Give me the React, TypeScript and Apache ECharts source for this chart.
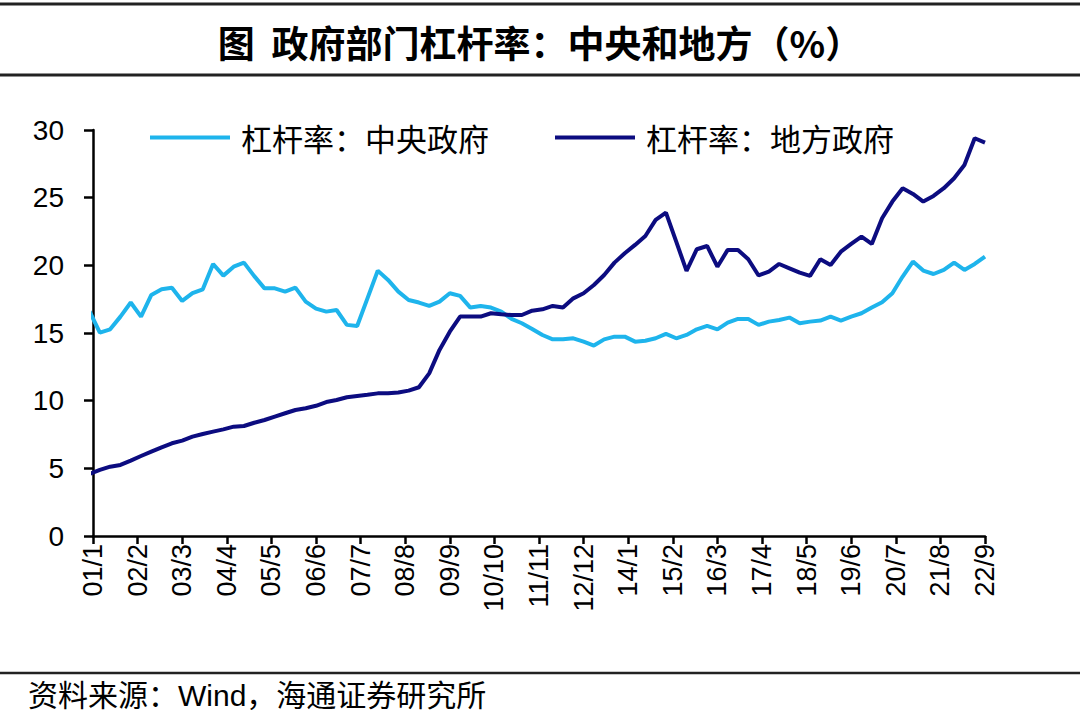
import React, { useEffect, useRef } from "react";
import * as echarts from "echarts";

// Quarterly data, 2000Q4 .. 2022Q3 (88 quarters)
const centralGov: number[] = [
  16.6, 15.03, 15.27, 16.21, 17.25, 16.21, 17.81, 18.23, 18.35, 17.37,
  17.94, 18.23, 20.1, 19.24, 19.9, 20.2, 19.2, 18.3, 18.3, 18.06,
  18.35, 17.32, 16.8, 16.58, 16.7, 15.6, 15.52, 17.56, 19.61, 18.92,
  18.06, 17.44, 17.25, 17.0, 17.32, 17.94, 17.74, 16.88, 17.0, 16.88,
  16.58, 16.04, 15.72, 15.3, 14.85, 14.53, 14.53, 14.61, 14.36, 14.07,
  14.53, 14.73, 14.73, 14.36, 14.43, 14.61, 14.93, 14.61, 14.86, 15.27,
  15.52, 15.27, 15.77, 16.04, 16.04, 15.6, 15.84, 15.96, 16.14, 15.72,
  15.84, 15.92, 16.21, 15.92, 16.21, 16.46, 16.88, 17.27, 17.94, 19.17,
  20.28, 19.61, 19.36, 19.66, 20.2, 19.66, 20.1, 20.65,
];

const localGov: number[] = [
  4.58, 4.88, 5.12, 5.25, 5.57, 5.91, 6.23, 6.55, 6.85, 7.05,
  7.34, 7.54, 7.71, 7.88, 8.08, 8.13, 8.37, 8.57, 8.82, 9.07,
  9.31, 9.44, 9.62, 9.9, 10.05, 10.25, 10.35, 10.44, 10.54, 10.54,
  10.6, 10.74, 10.99, 12.02, 13.75, 15.1, 16.21, 16.21, 16.21, 16.46,
  16.38, 16.33, 16.33, 16.65, 16.75, 17.0, 16.88, 17.56, 17.94, 18.55,
  19.29, 20.2, 20.89, 21.51, 22.17, 23.36, 23.9, 21.75, 19.59, 21.19,
  21.43, 19.9, 21.14, 21.14, 20.45, 19.25, 19.54, 20.1, 19.78, 19.46,
  19.22, 20.45, 20.03, 21.01, 21.58, 22.12, 21.58, 23.48, 24.71, 25.7,
  25.28, 24.71, 25.13, 25.7, 26.43, 27.42, 29.39, 29.07,
];

// X tick labels, every 13 months starting 2001-01
const xTickLabels: string[] = [
  "01/1", "02/2", "03/3", "04/4", "05/5", "06/6", "07/7", "08/8", "09/9", "10/10",
  "11/11", "12/12", "14/1", "15/2", "16/3", "17/4", "18/5", "19/6", "20/7", "21/8", "22/9",
];

const seriesNames: string[] = ["杠杆率：中央政府", "杠杆率：地方政府"];
const yTicks = { min: 0, max: 30, interval: 5 };

// month offset from 2001-01 of the k-th quarter end (k=0 -> 2000-12)
const monthOf = (k: number) => 3 * k - 1;

export default function App() {
  const ref = useRef<HTMLDivElement>(null);
  useEffect(() => {
    if (!ref.current) return;
    const chart = echarts.init(ref.current, null, { renderer: "svg" });
    const cjk = "'Noto Sans CJK SC', sans-serif";
    const latin = "'Liberation Sans', Arial, 'Noto Sans CJK SC', sans-serif";
    chart.setOption({
      animation: false,
      backgroundColor: "#fff",
      title: {
        text: "图  政府部门杠杆率：中央和地方（%）",
        left: "center",
        top: 18,
        textStyle: { fontFamily: cjk, fontSize: 37, fontWeight: "bold", color: "#000" },
      },
      legend: {
        left: 145,
        top: 117,
        icon: "rect",
        itemWidth: 80,
        itemHeight: 4,
        itemGap: 66,
        data: seriesNames,
        textStyle: { fontFamily: cjk, fontSize: 31, color: "#000", padding: [0, 0, 0, 6] },
      },
      grid: { left: 93, right: 95, top: 130, bottom: 184, containLabel: false },
      xAxis: {
        type: "value",
        min: 0,
        max: 260,
        interval: 13,
        splitLine: { show: false },
        axisLine: { show: true, onZero: false, lineStyle: { color: "#000", width: 2.5 } },
        axisTick: { show: true, length: 8, lineStyle: { color: "#000", width: 2.5 } },
        axisLabel: {
          rotate: 90,
          margin: 8,
          fontSize: 27,
          fontFamily: latin,
          color: "#000",
          showMinLabel: true,
          showMaxLabel: true,
          formatter: (v: number) => xTickLabels[Math.round(v / 13)] ?? "",
        },
      },
      yAxis: {
        type: "value",
        min: yTicks.min,
        max: yTicks.max,
        interval: yTicks.interval,
        splitLine: { show: false },
        axisLine: { show: true, lineStyle: { color: "#000", width: 2.5 } },
        axisTick: { show: true, length: 9, lineStyle: { color: "#000", width: 2.5 } },
        axisLabel: { fontSize: 28, fontFamily: latin, color: "#000", margin: 29 },
      },
      series: [
        {
          name: seriesNames[0],
          type: "line",
          symbol: "none",
          clip: true,
          lineStyle: { color: "#1EB4EC", width: 4 },
          itemStyle: { color: "#1EB4EC" },
          data: centralGov.map((v, k) => [monthOf(k), v]),
        },
        {
          name: seriesNames[1],
          type: "line",
          symbol: "none",
          clip: true,
          lineStyle: { color: "#0C0C80", width: 4 },
          itemStyle: { color: "#0C0C80" },
          data: localGov.map((v, k) => [monthOf(k), v]),
        },
      ],
      graphic: [
        { type: "line", shape: { x1: 0, y1: 4, x2: 1080, y2: 4 }, style: { stroke: "#222", lineWidth: 3 } },
        { type: "line", shape: { x1: 0, y1: 75, x2: 1080, y2: 75 }, style: { stroke: "#222", lineWidth: 3 } },
        { type: "line", shape: { x1: 0, y1: 673, x2: 1080, y2: 673 }, style: { stroke: "#222", lineWidth: 2.5 } },
        {
          type: "text",
          left: 28,
          top: 680,
          style: { text: "资料来源：Wind，海通证券研究所", font: `30px ${latin}`, fill: "#000" },
        },
      ],
    });
    return () => chart.dispose();
  }, []);
  return (
    <div
      ref={ref}
      style={{ position: "fixed", left: 0, top: 0, width: 1080, height: 720, background: "#fff" }}
    />
  );
}
